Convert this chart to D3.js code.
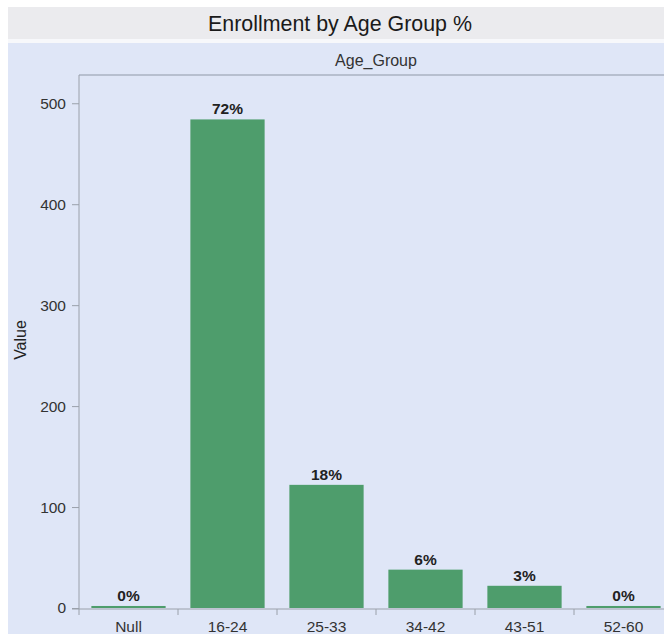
<!DOCTYPE html>
<html>
<head>
<meta charset="utf-8">
<script src="https://cdn.jsdelivr.net/npm/d3@7"></script>
<style>
  html, body { margin: 0; padding: 0; background: #ffffff; }
  svg { display: block; font-family: "Liberation Sans", Arial, sans-serif; }
</style>
</head>
<body>
<svg id="chart" width="664" height="634"></svg>
<script>
// Enrollment counts per age group
const categories = ["Null", "16-24", "25-33", "34-42", "43-51", "52-60"];
const values = [2, 484, 122, 38, 22, 2];
const yTicks = [0, 100, 200, 300, 400, 500];

const W = 664, H = 634;
const svg = d3.select("#chart");

// Title band
svg.append("rect").attr("x", 8).attr("y", 7).attr("width", W - 8).attr("height", 32)
  .attr("fill", "#ebebee");
svg.append("rect").attr("x", 8).attr("y", 39).attr("width", W - 8).attr("height", 4)
  .attr("fill", "#f7f8fb");
svg.append("text").attr("x", 340).attr("y", 31).attr("text-anchor", "middle")
  .attr("font-size", 21.4).attr("fill", "#1a1a1a").text("Enrollment by Age Group %");

// Panel background
svg.append("rect").attr("x", 8).attr("y", 43).attr("width", W - 8).attr("height", H - 43)
  .attr("fill", "#dfe6f7");

const plot = { left: 79, right: 673, top: 75, bottom: 608 };

const x = d3.scaleBand().domain(categories)
  .range([plot.left, plot.right]).paddingInner(0.25).paddingOuter(0.125);
const y = d3.scaleLinear().domain([0, 528]).range([plot.bottom, plot.top]);

// Facet header
svg.append("text").attr("x", (plot.left + plot.right) / 2).attr("y", 66)
  .attr("text-anchor", "middle").attr("font-size", 16).attr("fill", "#333")
  .text("Age_Group");

// Frame: top line and axes
svg.append("line").attr("x1", plot.left).attr("x2", W).attr("y1", plot.top).attr("y2", plot.top)
  .attr("stroke", "#aab2c2").attr("stroke-width", 1.5);

const yAxis = d3.axisLeft(y).tickValues(yTicks).tickSize(7).tickPadding(6);
const gy = svg.append("g").attr("transform", `translate(${plot.left},0)`).call(yAxis);
gy.select(".domain").attr("stroke", "#9aa0aa")
  .attr("d", `M0,${plot.top}V${plot.bottom + 7}`);
gy.selectAll(".tick line").attr("stroke", "#9aa0aa");
gy.selectAll(".tick text").attr("font-size", 15.5).attr("fill", "#333")
  .attr("font-family", "Liberation Sans, Arial, sans-serif");

// X axis: ticks sit on the boundaries between categories
const gap = (x.step() - x.bandwidth()) / 2;
const xAxis = d3.axisBottom(x).tickSize(0).tickPadding(12);
const gx = svg.append("g").attr("transform", `translate(0,${plot.bottom + 1})`).call(xAxis);
gx.select(".domain").attr("stroke", "#9aa0aa")
  .attr("d", `M${plot.left - 7},0H${W}`);
gx.selectAll(".tick text").attr("font-size", 15.5).attr("fill", "#333")
  .attr("font-family", "Liberation Sans, Arial, sans-serif");
gx.selectAll(".boundary").data(categories.slice(1)).join("line")
  .attr("class", "boundary")
  .attr("x1", d => x(d) - gap).attr("x2", d => x(d) - gap)
  .attr("y1", 0).attr("y2", 6).attr("stroke", "#9aa0aa");

// Y axis title
svg.append("text").attr("transform", `translate(26,340) rotate(-90)`)
  .attr("text-anchor", "middle").attr("font-size", 16).attr("fill", "#222")
  .text("Value");

// Bars
const total = d3.sum(values);
const data = categories.map((c, i) => ({ c, v: values[i] }));
svg.append("g").selectAll("rect").data(data).join("rect")
  .attr("x", d => x(d.c)).attr("width", x.bandwidth())
  .attr("y", d => y(d.v)).attr("height", d => y(0) - y(d.v))
  .attr("fill", "#4e9d6c");

// Percentage labels
svg.append("g").selectAll("text").data(data).join("text")
  .attr("x", d => x(d.c) + x.bandwidth() / 2).attr("y", d => y(d.v) - 5)
  .attr("text-anchor", "middle").attr("font-size", 15.5).attr("font-weight", "bold")
  .attr("fill", "#222")
  .text(d => Math.round(d.v / total * 100) + "%");
</script>
</body>
</html>
